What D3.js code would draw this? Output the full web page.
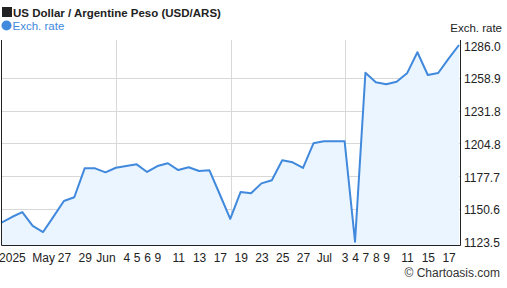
<!DOCTYPE html>
<html><head><meta charset="utf-8">
<script src="https://cdn.jsdelivr.net/npm/d3@7"></script>
<style>
html,body{margin:0;padding:0;background:#fff;}
svg{display:block;font-family:"Liberation Sans",Arial,sans-serif;}
</style></head>
<body><svg id="c" width="507" height="288"></svg>
<script>
const title = "US Dollar / Argentine Peso (USD/ARS)";
const seriesName = "Exch. rate";
const dates = ["2025-05-19","2025-05-20","2025-05-21","2025-05-22","2025-05-23","2025-05-26","2025-05-27","2025-05-28","2025-05-29","2025-05-30",
"2025-06-02","2025-06-03","2025-06-04","2025-06-05","2025-06-06","2025-06-09","2025-06-10","2025-06-11","2025-06-12","2025-06-13",
"2025-06-16","2025-06-17","2025-06-18","2025-06-19","2025-06-20","2025-06-23","2025-06-24","2025-06-25","2025-06-26","2025-06-27",
"2025-06-30","2025-07-01","2025-07-02","2025-07-03","2025-07-04","2025-07-07","2025-07-08","2025-07-09","2025-07-10","2025-07-11",
"2025-07-14","2025-07-15","2025-07-16","2025-07-17","2025-07-18"];
const rates = [1139.2,1143.9,1148.0,1136.5,1131.5,1144.2,1157.1,1160.2,1184.1,1184.1,
1180.8,1184.6,1186.0,1187.4,1181.1,1186.0,1188.3,1182.7,1185.0,1181.9,
1182.5,1162.5,1142.3,1164.6,1163.5,1171.7,1174.2,1190.8,1189.1,1184.4,
1204.8,1206.4,1206.4,1206.4,1123.5,1263.1,1255.2,1253.5,1255.7,1262.6,
1280.0,1261.2,1262.9,1274.8,1286.0];
const yTicks = [1123.5,1150.6,1177.7,1204.8,1231.8,1258.9,1286.0];
const xTickDates = ["2025-05-20","2025-05-23","2025-05-27","2025-05-29","2025-06-02","2025-06-04","2025-06-05","2025-06-06","2025-06-09","2025-06-11",
"2025-06-13","2025-06-17","2025-06-19","2025-06-23","2025-06-25","2025-06-27","2025-07-01","2025-07-03","2025-07-04","2025-07-07",
"2025-07-08","2025-07-09","2025-07-11","2025-07-15","2025-07-17"];
const xTickLabels = ["2025","May","27","29","Jun","4","5","6","9","11",
"13","17","19","23","25","27","Jul","3","4","7",
"8","9","11","15","17"];

const data = dates.map((d,i)=>({d, v: rates[i]}));
const svg = d3.select("#c");
const L = 1, R = 460, T = 40, B = 245;
const x = d3.scalePoint().domain(dates).range([1.5, 459]);
const y = d3.scaleLinear().domain([1123.5, 1286.0]).range([241.7, 45]);
const blue = "#4189dd";

// gridlines
const g = svg.append("g");
g.selectAll("line.h").data(yTicks.slice(1,-1)).join("line")
  .attr("x1", L).attr("x2", R).attr("y1", d=>Math.round(y(d))+0.5).attr("y2", d=>Math.round(y(d))+0.5)
  .attr("stroke", "#d8d8d8").attr("stroke-width", 1);
g.selectAll("line.v").data(d3.range(1,4)).join("line")
  .attr("x1", i=>Math.round(L + i*(R-L)/4)+0.5).attr("x2", i=>Math.round(L + i*(R-L)/4)+0.5)
  .attr("y1", T).attr("y2", B)
  .attr("stroke", "#d8d8d8").attr("stroke-width", 1);

// area + line
svg.append("path").datum(data)
  .attr("d", d3.area().x(d=>x(d.d)).y0(B).y1(d=>y(d.v)))
  .attr("fill", "#eaf5ff");
svg.append("path").datum(data)
  .attr("d", d3.line().x(d=>x(d.d)).y(d=>y(d.v)))
  .attr("fill", "none").attr("stroke", blue).attr("stroke-width", 2).attr("stroke-linejoin","round");

// frame
svg.append("path").attr("d", `M${L+0.5},${T}V${B+0.5}H${R+0.5}V${T}`)
  .attr("fill","none").attr("stroke","#222").attr("stroke-width",1);

// y axis
const ya = svg.append("g").attr("transform", `translate(${R},0)`)
  .call(d3.axisRight(y).tickValues(yTicks).tickFormat(d3.format(".1f")).tickSize(0).tickPadding(4));
ya.select(".domain").remove();
ya.selectAll("text").attr("dy","0.42em").attr("font-size","12px").attr("fill","#222").attr("font-family",null);

// x axis
const labelOf = new Map(xTickDates.map((d,i)=>[d, xTickLabels[i]]));
const xa = svg.append("g").attr("transform", `translate(0,${B})`)
  .call(d3.axisBottom(x).tickValues(xTickDates).tickFormat(d=>labelOf.get(d)).tickSize(0).tickPadding(8.5));
xa.select(".domain").remove();
xa.selectAll("text").attr("font-size","12px").attr("fill","#222").attr("font-family",null);

// title + legend
svg.append("rect").attr("x",2).attr("y",7).attr("width",10).attr("height",10).attr("fill","#222");
svg.append("text").attr("x",13).attr("y",16.5).attr("font-size","11.5px").attr("font-weight","bold").attr("fill","#222").text(title);
svg.append("circle").attr("cx",6.5).attr("cy",25.5).attr("r",5).attr("fill",blue);
svg.append("text").attr("x",12.5).attr("y",30).attr("font-size","11.5px").attr("fill",blue).text(seriesName);
svg.append("text").attr("x",502).attr("y",31.5).attr("text-anchor","end").attr("font-size","11.5px").attr("fill","#222").text(seriesName);
svg.append("text").attr("x",500).attr("y",277).attr("text-anchor","end").attr("font-size","12px").attr("fill","#333").text("© Chartoasis.com");
</script></body></html>
